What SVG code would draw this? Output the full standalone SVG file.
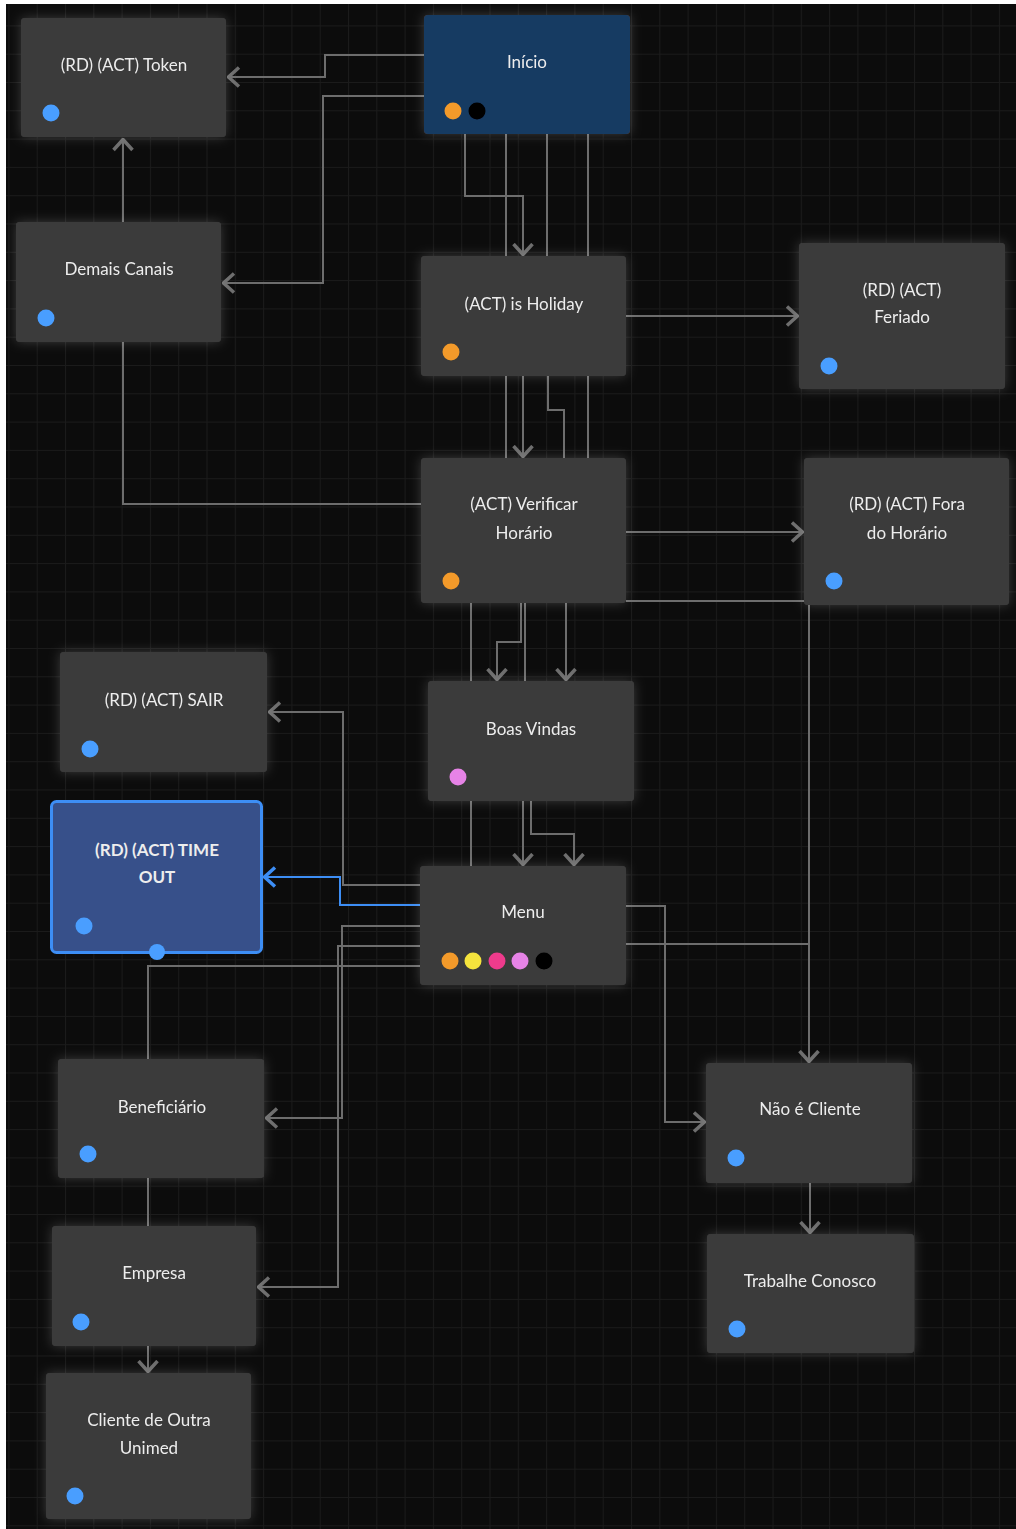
<svg xmlns="http://www.w3.org/2000/svg" width="1016" height="1529" viewBox="0 0 1016 1529">
  <style>
    .edge { fill: none; stroke: #6d6d6d; stroke-width: 2; }
    .edge-sel { fill: none; stroke: #3d8ef5; stroke-width: 2; }
    .card { fill: #3a3a3a; }
    .label { font-family: Lato, "Noto Sans", "Liberation Sans", sans-serif; font-size: 17px; fill: #ededed; text-anchor: middle; }
    .bold { font-weight: bold; }
    .blue { fill: #4a9eff; }
    .orange { fill: #f39a2b; }
    .black { fill: #000000; }
    .yellow { fill: #f5e43c; }
    .magenta { fill: #ee3a8c; }
    .violet { fill: #e683e6; }
  </style>
  <defs>
    <pattern id="grid" width="28.3" height="28.3" x="8.4" y="25.4" patternUnits="userSpaceOnUse">
      <path d="M0,0.5 H28.3 M0.5,0 V28.3" fill="none" stroke="#1b1b1b" stroke-width="1"/>
    </pattern>
    <filter id="glow" x="-20%" y="-20%" width="140%" height="140%">
      <feGaussianBlur in="SourceAlpha" stdDeviation="6" result="b"/>
      <feFlood flood-color="#ffffff" flood-opacity="0.2"/>
      <feComposite in2="b" operator="in" result="g"/>
      <feMerge>
        <feMergeNode in="g"/>
        <feMergeNode in="SourceGraphic"/>
      </feMerge>
    </filter>
    <!-- open chevron arrowheads, grey and selected blue -->
    <marker id="arrow" viewBox="0 0 14 22" refX="12.5" refY="11" markerWidth="14" markerHeight="22" markerUnits="userSpaceOnUse" orient="auto">
      <path d="M1.5,1.5 L12,11 L1.5,20.5" fill="none" stroke="#6d6d6d" stroke-width="3.5"/>
    </marker>
    <marker id="arrow-sel" viewBox="0 0 14 22" refX="12.5" refY="11" markerWidth="14" markerHeight="22" markerUnits="userSpaceOnUse" orient="auto">
      <path d="M1.5,1.5 L12,11 L1.5,20.5" fill="none" stroke="#3d8ef5" stroke-width="3.5"/>
    </marker>
  </defs>

  <!-- canvas -->
  <rect x="0" y="0" width="1016" height="1529" fill="#ffffff"/>
  <rect x="6" y="4" width="1010" height="1525" fill="#0c0c0c"/>
  <rect x="6" y="4" width="1010" height="1525" fill="url(#grid)"/>

  <!-- connectors -->
  <g id="connectors">
    <path class="edge" d="M424,55 H325 V77 H228" marker-end="url(#arrow)"/>
    <path class="edge" d="M424,96 H323 V283 H223" marker-end="url(#arrow)"/>
    <path class="edge" d="M123,222 V139" marker-end="url(#arrow)"/>
    <path class="edge" d="M465,134 V196 H523 V255" marker-end="url(#arrow)"/>
    <path class="edge" d="M506,134 V458"/>
    <path class="edge" d="M547,134 V300"/>
    <path class="edge" d="M548,376 V410 H564 V458"/>
    <path class="edge" d="M588,134 V458"/>
    <path class="edge" d="M523,376 V457" marker-end="url(#arrow)"/>
    <path class="edge" d="M626,316 H798" marker-end="url(#arrow)"/>
    <path class="edge" d="M123,342 V504 H421"/>
    <path class="edge" d="M626,532 H803" marker-end="url(#arrow)"/>
    <path class="edge" d="M626,601 H809 V1062" marker-end="url(#arrow)"/>
    <path class="edge" d="M471,603 V866"/>
    <path class="edge" d="M521,603 V642 H497 V680" marker-end="url(#arrow)"/>
    <path class="edge" d="M525,603 V700"/>
    <path class="edge" d="M523,780 V865" marker-end="url(#arrow)"/>
    <path class="edge" d="M566,603 V680" marker-end="url(#arrow)"/>
    <path class="edge" d="M531,801 V834 H574 V865" marker-end="url(#arrow)"/>
    <path class="edge" d="M420,885 H343 V712 H269" marker-end="url(#arrow)"/>
    <path class="edge" d="M420,926 H342 V1118 H266" marker-end="url(#arrow)"/>
    <path class="edge" d="M420,946 H338 V1287 H258" marker-end="url(#arrow)"/>
    <path class="edge" d="M420,966 H148 V1372" marker-end="url(#arrow)"/>
    <path class="edge" d="M626,906 H665 V1122 H705" marker-end="url(#arrow)"/>
    <path class="edge" d="M626,944 H809 V1000"/>
    <path class="edge" d="M810,1183 V1233" marker-end="url(#arrow)"/>
    <path class="edge-sel" d="M420,905 H340 V877 H264" marker-end="url(#arrow-sel)"/>
  </g>

  <!-- nodes -->
  <g id="node-token" filter="url(#glow)">
    <rect class="card" x="21" y="18" width="205" height="119" rx="4"/>
    <text class="label" x="124" y="71">(RD) (ACT) Token</text>
    <circle class="blue" cx="51" cy="113" r="8.5"/>
  </g>
  <g id="node-inicio" filter="url(#glow)">
    <rect x="424" y="15" width="206" height="119" rx="4" fill="#163a62"/>
    <text class="label" x="527" y="68">Início</text>
    <circle class="orange" cx="453" cy="111" r="8.5"/>
    <circle class="black" cx="477" cy="111" r="8.5"/>
  </g>
  <g id="node-demais-canais" filter="url(#glow)">
    <rect class="card" x="16" y="222" width="205" height="120" rx="4"/>
    <text class="label" x="119" y="275">Demais Canais</text>
    <circle class="blue" cx="46" cy="318" r="8.5"/>
  </g>
  <g id="node-is-holiday" filter="url(#glow)">
    <rect class="card" x="421" y="256" width="205" height="120" rx="4"/>
    <text class="label" x="524" y="310">(ACT) is Holiday</text>
    <circle class="orange" cx="451" cy="352" r="8.5"/>
  </g>
  <g id="node-feriado" filter="url(#glow)">
    <rect class="card" x="799" y="243" width="206" height="146" rx="4"/>
    <text class="label" x="902" y="296">(RD) (ACT)</text>
    <text class="label" x="902" y="323">Feriado</text>
    <circle class="blue" cx="829" cy="366" r="8.5"/>
  </g>
  <g id="node-verificar-horario" filter="url(#glow)">
    <rect class="card" x="421" y="458" width="205" height="145" rx="4"/>
    <text class="label" x="524" y="510">(ACT) Verificar</text>
    <text class="label" x="524" y="539">Horário</text>
    <circle class="orange" cx="451" cy="581" r="8.5"/>
  </g>
  <g id="node-fora-horario" filter="url(#glow)">
    <rect class="card" x="804" y="458" width="205" height="147" rx="4"/>
    <text class="label" x="907" y="510">(RD) (ACT) Fora</text>
    <text class="label" x="907" y="539">do Horário</text>
    <circle class="blue" cx="834" cy="581" r="8.5"/>
  </g>
  <g id="node-sair" filter="url(#glow)">
    <rect class="card" x="60" y="652" width="207" height="120" rx="4"/>
    <text class="label" x="164" y="706">(RD) (ACT) SAIR</text>
    <circle class="blue" cx="90" cy="749" r="8.5"/>
  </g>
  <g id="node-boas-vindas" filter="url(#glow)">
    <rect class="card" x="428" y="681" width="206" height="120" rx="4"/>
    <text class="label" x="531" y="735">Boas Vindas</text>
    <circle class="violet" cx="458" cy="777" r="8.5"/>
  </g>
  <g id="node-time-out">
    <rect x="51.5" y="801.5" width="210" height="151" rx="5" fill="#37508a" stroke="#3d8ef5" stroke-width="3"/>
    <text class="label bold" x="157" y="856">(RD) (ACT) TIME</text>
    <text class="label bold" x="157" y="883">OUT</text>
    <circle class="blue" cx="84" cy="926" r="8.5"/>
    <circle class="blue" cx="157" cy="952" r="8"/>
  </g>
  <g id="node-menu" filter="url(#glow)">
    <rect class="card" x="420" y="866" width="206" height="119" rx="4"/>
    <text class="label" x="523" y="918">Menu</text>
    <circle class="orange" cx="450" cy="961" r="8.5"/>
    <circle class="yellow" cx="473" cy="961" r="8.5"/>
    <circle class="magenta" cx="497" cy="961" r="8.5"/>
    <circle class="violet" cx="520" cy="961" r="8.5"/>
    <circle class="black" cx="544" cy="961" r="8.5"/>
  </g>
  <g id="node-beneficiario" filter="url(#glow)">
    <rect class="card" x="58" y="1059" width="206" height="119" rx="4"/>
    <text class="label" x="162" y="1113">Beneficiário</text>
    <circle class="blue" cx="88" cy="1154" r="8.5"/>
  </g>
  <g id="node-empresa" filter="url(#glow)">
    <rect class="card" x="52" y="1226" width="204" height="120" rx="4"/>
    <text class="label" x="154" y="1279">Empresa</text>
    <circle class="blue" cx="81" cy="1322" r="8.5"/>
  </g>
  <g id="node-outra-unimed" filter="url(#glow)">
    <rect class="card" x="46" y="1373" width="205" height="146" rx="4"/>
    <text class="label" x="149" y="1426">Cliente de Outra</text>
    <text class="label" x="149" y="1454">Unimed</text>
    <circle class="blue" cx="75" cy="1496" r="8.5"/>
  </g>
  <g id="node-nao-cliente" filter="url(#glow)">
    <rect class="card" x="706" y="1063" width="206" height="120" rx="4"/>
    <text class="label" x="810" y="1115">Não é Cliente</text>
    <circle class="blue" cx="736" cy="1158" r="8.5"/>
  </g>
  <g id="node-trabalhe-conosco" filter="url(#glow)">
    <rect class="card" x="707" y="1234" width="207" height="119" rx="4"/>
    <text class="label" x="810" y="1287">Trabalhe Conosco</text>
    <circle class="blue" cx="737" cy="1329" r="8.5"/>
  </g>
</svg>
